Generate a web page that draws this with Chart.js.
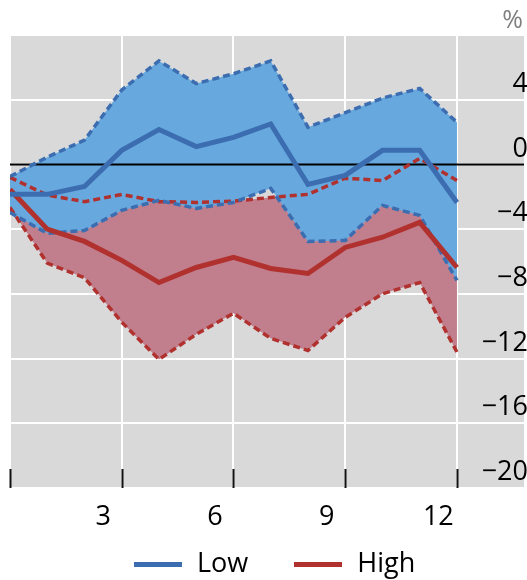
<!DOCTYPE html>
<html>
<head>
<meta charset="utf-8">
<script src="https://cdn.jsdelivr.net/npm/chart.js@4"></script>
<style>
  html, body { margin: 0; padding: 0; background: #fff; }
  #wrap { position: relative; width: 527px; height: 580px; }
  #legend {
    position: absolute; left: 134px; top: 546px; height: 32px;
    display: flex; align-items: center;
    font-family: 'Open Sans', sans-serif; font-size: 27px; line-height: 32px; color: #000;
  }
  .item { display: flex; align-items: center; }
  .item + .item { margin-left: 46px; }
  .bar { width: 48px; height: 5px; margin-right: 15px; position: relative; top: 2px; }
</style>
</head>
<body>
<div id="wrap">
  <canvas id="chart" width="527" height="580"></canvas>
  <div id="legend"></div>
</div>
<script>
// Horizon steps along the x axis
const steps = [0, 1, 2, 3, 4, 5, 6, 7, 8, 9, 10, 11, 12];

// "Low" group: central estimate and band bounds (%)
const lowMean  = [-1.85, -1.85, -1.36, 0.87, 2.16, 1.1, 1.67, 2.5, -1.24, -0.68, 0.87, 0.87, -2.35];
const lowUpper = [-0.75, 0.45, 1.5, 4.6, 6.4, 5.0, 5.6, 6.4, 2.3, 3.2, 4.1, 4.7, 2.6];
const lowLower = [-2.97, -4.26, -4.08, -2.84, -2.22, -2.72, -2.35, -1.48, -4.76, -4.7, -2.53, -3.15, -7.17];

// "High" group: central estimate and band bounds (%)
const highMean  = [-1.55, -4.0, -4.76, -5.93, -7.3, -6.37, -5.75, -6.43, -6.74, -5.13, -4.5, -3.58, -6.37];
const highUpper = [-0.8, -1.9, -2.3, -1.86, -2.3, -2.35, -2.27, -2.04, -1.85, -0.85, -1.0, 0.37, -1.0];
const highLower = [-2.66, -6.1, -7.0, -9.75, -12.05, -10.5, -9.2, -10.75, -11.5, -9.45, -8.0, -7.3, -11.6];

// Axis ticks and labels
const xTickValues = [0, 3, 6, 9, 12];
const xTickLabels = ['', '3', '6', '9', '12'];
const yTickValues = [8, 4, 0, -4, -8, -12, -16, -20];
const unitLabel = '%';

const BLUE = '#3b6db0';
const BLUE_FILL = '#67a9de';
const RED = '#b0312e';
const RED_FILL = '#c17f8e';
const FONT = { family: "'Open Sans', sans-serif", size: 27 };

const pts = arr => steps.map((s, i) => ({ x: s, y: arr[i] }));
const fmtY = v => (v < 0 ? '\u2212' + Math.abs(v) : String(v));

const solid = (label, arr, color) => ({
  label, data: pts(arr), borderColor: color, backgroundColor: color,
  borderWidth: 5, pointRadius: 0, tension: 0, fill: false
});
const dashed = (arr, color, fill, fillColor) => ({
  label: '', data: pts(arr), borderColor: color, backgroundColor: fillColor || 'transparent',
  borderWidth: 3.5, borderDash: [7, 4], pointRadius: 0, tension: 0, fill: fill
});

// Plot background, unit label, zero line over the bands, and short tick marks inside the bottom edge
const decor = {
  id: 'decor',
  beforeDraw(chart) {
    const { ctx, chartArea: a } = chart;
    ctx.save();
    ctx.fillStyle = '#d9d9d9';
    ctx.fillRect(a.left, a.top, a.right - a.left, a.bottom - a.top);
    ctx.fillStyle = '#7f7f7f';
    ctx.font = "25px 'Open Sans', sans-serif";
    ctx.textAlign = 'right';
    ctx.textBaseline = 'alphabetic';
    ctx.fillText(unitLabel, a.right - 1, 28);
    ctx.restore();
  },
  beforeDatasetsDraw(chart) {
    const { ctx, chartArea: a, scales } = chart;
    const y0 = scales.y.getPixelForValue(0);
    ctx.save();
    ctx.strokeStyle = '#000';
    ctx.lineWidth = 2;
    ctx.beginPath();
    ctx.moveTo(a.left, y0);
    ctx.lineTo(a.right, y0);
    ctx.stroke();
    ctx.restore();
  },
  afterDraw(chart) {
    const { ctx, chartArea: a, scales } = chart;
    ctx.save();
    ctx.strokeStyle = '#111';
    ctx.lineWidth = 2;
    xTickValues.forEach(v => {
      const x = Math.round(scales.x.getPixelForValue(v)) + 0.5;
      ctx.beginPath();
      ctx.moveTo(x, a.bottom - 19);
      ctx.lineTo(x, a.bottom);
      ctx.stroke();
    });
    ctx.restore();
  }
};

const chart = new Chart(document.getElementById('chart'), {
  type: 'line',
  data: {
    datasets: [
      solid('Low', lowMean, BLUE),
      solid('High', highMean, RED),
      dashed(lowUpper, BLUE, '+1', BLUE_FILL),
      dashed(lowLower, BLUE, false),
      dashed(highUpper, RED, '+1', RED_FILL),
      dashed(highLower, RED, false)
    ]
  },
  options: {
    responsive: false,
    animation: false,
    layout: { padding: { left: 10, right: 3, top: 35, bottom: 46 } },
    plugins: {
      legend: { display: false },
      tooltip: { enabled: false },
      filler: { drawTime: 'beforeDatasetsDraw' }
    },
    scales: {
      x: {
        type: 'linear', min: 0, max: 13.8,
        afterBuildTicks: s => { s.ticks = xTickValues.map(v => ({ value: v })); },
        afterFit: s => { s.height = 46; s.paddingLeft = 0; s.paddingRight = 0; },
        grid: { color: '#fff', lineWidth: 2, drawTicks: false },
        border: { display: false },
        ticks: {
          autoSkip: false, maxRotation: 0, labelOffset: -18.6, padding: 13,
          color: '#000', font: FONT,
          callback: v => xTickLabels[xTickValues.indexOf(v)] ?? ''
        }
      },
      y: {
        position: 'right', min: -20, max: 8,
        afterBuildTicks: s => { s.ticks = yTickValues.map(v => ({ value: v })); },
        afterFit: s => { s.width = 0; s.paddingTop = 0; s.paddingBottom = 0; },
        grid: { color: '#fff', lineWidth: 2, drawTicks: false },
        border: { display: false },
        ticks: {
          mirror: true, padding: 4, labelOffset: -15.5,
          color: '#000', font: FONT,
          callback: v => (v === 8 ? '' : fmtY(v))
        }
      }
    }
  },
  plugins: [decor]
});

// Legend built from the labelled series
const legendEl = document.getElementById('legend');
chart.data.datasets.filter(d => d.label).forEach(d => {
  const item = document.createElement('div');
  item.className = 'item';
  const bar = document.createElement('span');
  bar.className = 'bar';
  bar.style.background = d.borderColor;
  const txt = document.createElement('span');
  txt.textContent = d.label;
  item.appendChild(bar);
  item.appendChild(txt);
  legendEl.appendChild(item);
});
</script>
</body>
</html>
